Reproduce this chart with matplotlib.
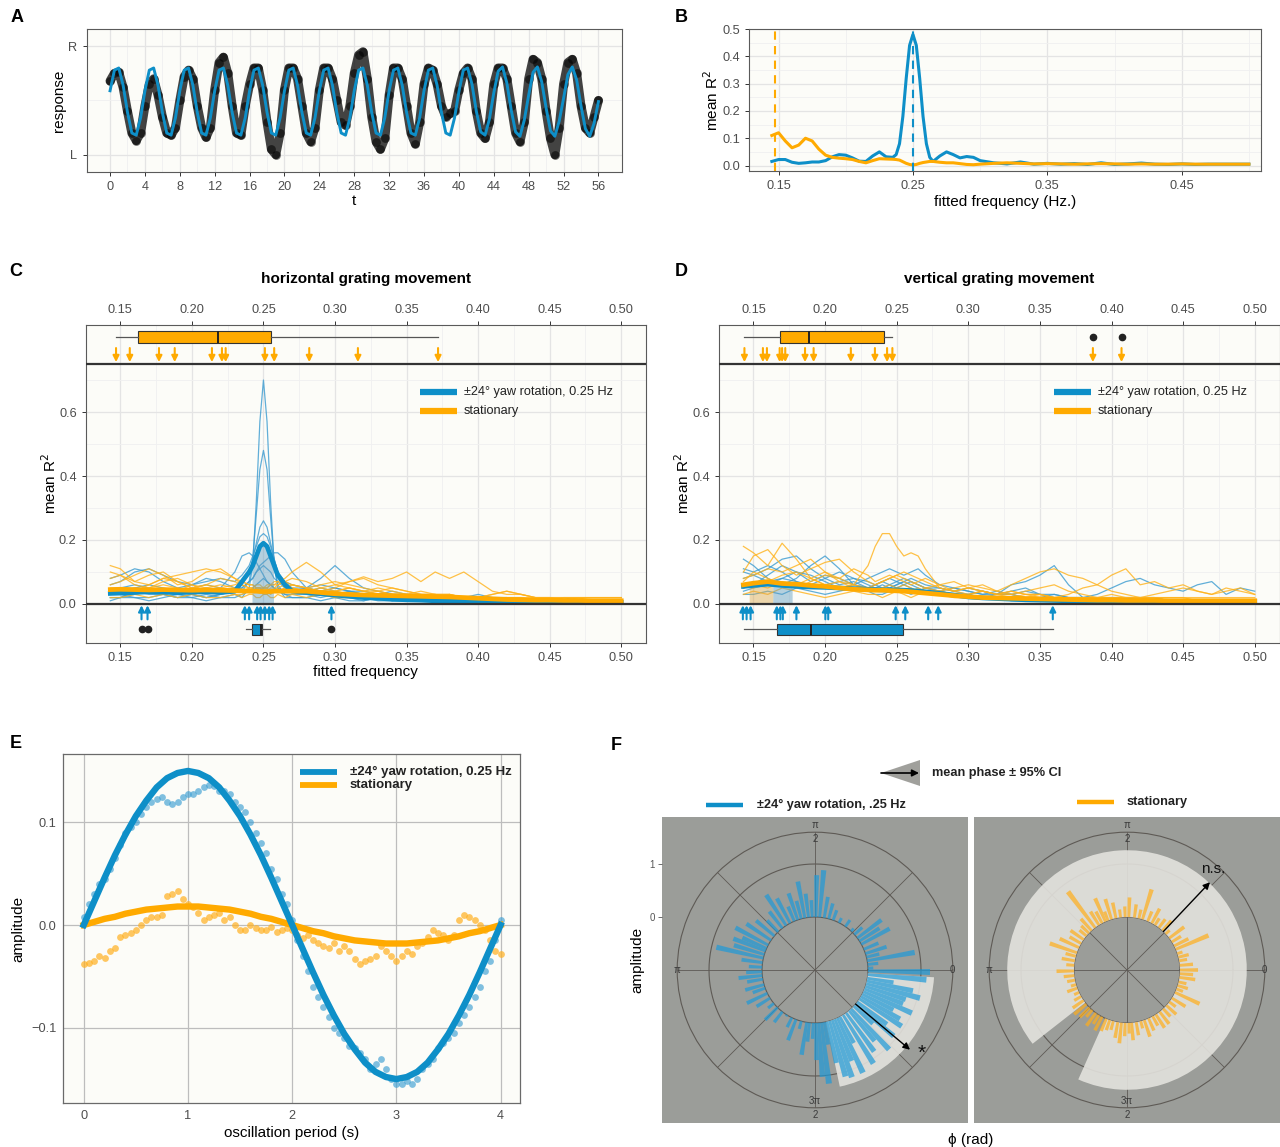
import numpy as np
import matplotlib.pyplot as plt
from matplotlib.patches import Polygon
from matplotlib.ticker import FormatStrFormatter

plt.rcParams['font.family'] = ['Liberation Sans', 'DejaVu Sans']

W, H = 1280, 1147
BLUE = '#0E8FC8'
BLUE_THIN = '#3A9BD0'
ORANGE = '#FFAA00'
ORANGE_THIN = '#FFB21A'
PANEL_BG = '#FCFCF8'
POLAR_BG = '#9B9D99'

# ---------------- A: single trial response ----------------
T_A = np.arange(113) * 0.5
A_RESPONSE = [
    0.68, 0.75, 0.76, 0.62, 0.40, 0.20, 0.13, 0.20,
    0.45, 0.65, 0.70, 0.55, 0.35, 0.20, 0.18, 0.25,
    0.50, 0.72, 0.78, 0.70, 0.45, 0.25, 0.16, 0.25,
    0.60, 0.85, 0.90, 0.75, 0.45, 0.20, 0.18, 0.45,
    0.65, 0.80, 0.80, 0.60, 0.30, 0.05, 0.00, 0.20,
    0.60, 0.80, 0.80, 0.70, 0.45, 0.20, 0.12, 0.25,
    0.60, 0.80, 0.80, 0.70, 0.50, 0.30, 0.27, 0.45,
    0.75, 0.92, 0.95, 0.70, 0.35, 0.12, 0.05, 0.15,
    0.55, 0.80, 0.80, 0.70, 0.45, 0.20, 0.10, 0.30,
    0.65, 0.80, 0.78, 0.65, 0.45, 0.35, 0.38, 0.40,
    0.60, 0.75, 0.80, 0.70, 0.40, 0.20, 0.15, 0.30,
    0.65, 0.80, 0.80, 0.70, 0.45, 0.20, 0.12, 0.30,
    0.70, 0.88, 0.85, 0.70, 0.40, 0.15, 0.00, 0.25,
    0.65, 0.85, 0.88, 0.75, 0.45, 0.25, 0.20, 0.35,
    0.50]
A_FIT = [
    0.59, 0.78, 0.80, 0.64, 0.39, 0.20, 0.18, 0.34,
    0.59, 0.78, 0.80, 0.64, 0.39, 0.20, 0.18, 0.34,
    0.59, 0.78, 0.80, 0.64, 0.39, 0.20, 0.18, 0.34,
    0.59, 0.78, 0.80, 0.64, 0.39, 0.20, 0.18, 0.34,
    0.59, 0.78, 0.80, 0.64, 0.39, 0.20, 0.18, 0.34,
    0.59, 0.78, 0.80, 0.64, 0.39, 0.20, 0.18, 0.34,
    0.59, 0.78, 0.80, 0.64, 0.39, 0.20, 0.18, 0.34,
    0.59, 0.78, 0.80, 0.64, 0.39, 0.20, 0.18, 0.34,
    0.59, 0.78, 0.80, 0.64, 0.39, 0.20, 0.18, 0.34,
    0.59, 0.78, 0.80, 0.64, 0.39, 0.20, 0.18, 0.34,
    0.58, 0.78, 0.80, 0.65, 0.40, 0.21, 0.18, 0.33,
    0.57, 0.77, 0.81, 0.66, 0.41, 0.21, 0.17, 0.32,
    0.55, 0.76, 0.81, 0.67, 0.43, 0.22, 0.17, 0.31,
    0.52, 0.74, 0.81, 0.69, 0.45, 0.24, 0.17, 0.29,
    0.49]

# ---------------- B: mean R2 vs fitted frequency ----------------
FREQ_B = [0.145, 0.15, 0.155, 0.16, 0.165, 0.17, 0.175, 0.18, 0.185, 0.19,
          0.195, 0.2, 0.205, 0.21, 0.215, 0.22, 0.225, 0.23, 0.235,
          0.2375, 0.24, 0.2425, 0.245, 0.2475, 0.25, 0.2525, 0.255, 0.2575,
          0.26, 0.2625, 0.265,
          0.27, 0.275, 0.28, 0.285, 0.29, 0.295, 0.30,
          0.31, 0.32, 0.33, 0.34, 0.35, 0.36, 0.37, 0.38, 0.39, 0.40,
          0.41, 0.42, 0.43, 0.44, 0.45, 0.46, 0.47, 0.48, 0.49, 0.50]
B_YAW = [0.015, 0.022, 0.022, 0.012, 0.008, 0.010, 0.013, 0.013, 0.018, 0.032,
         0.040, 0.038, 0.028, 0.016, 0.015, 0.035, 0.050, 0.032, 0.030,
         0.040, 0.080, 0.180, 0.320, 0.440, 0.480, 0.440, 0.320, 0.180,
         0.080, 0.030, 0.015,
         0.035, 0.050, 0.040, 0.028, 0.033, 0.030, 0.018,
         0.010, 0.006, 0.013, 0.005, 0.008, 0.005, 0.007, 0.004, 0.010, 0.004,
         0.006, 0.009, 0.005, 0.004, 0.006, 0.004, 0.005, 0.005, 0.005, 0.005]
B_STATIONARY = [0.110, 0.120, 0.090, 0.065, 0.075, 0.100, 0.090, 0.060, 0.038, 0.030,
                0.027, 0.025, 0.022, 0.015, 0.010, 0.018, 0.025, 0.024, 0.023,
                0.022, 0.020, 0.014, 0.008, 0.004, 0.002, 0.004, 0.008, 0.011,
                0.013, 0.015, 0.015,
                0.012, 0.010, 0.010, 0.007, 0.004, 0.003, 0.005,
                0.008, 0.010, 0.008, 0.006, 0.007, 0.006, 0.005, 0.006, 0.007, 0.006,
                0.005, 0.006, 0.005, 0.005, 0.006, 0.005, 0.005, 0.005, 0.005, 0.005]
B_PEAK_YAW = 0.25
B_PEAK_STATIONARY = 0.147

# ---------------- C: horizontal grating movement ----------------
FREQ_C = [0.143, 0.15, 0.16, 0.17, 0.18, 0.19, 0.20, 0.21, 0.22, 0.23,
          0.235, 0.24, 0.2425, 0.245, 0.2475, 0.25, 0.2525, 0.255, 0.2575, 0.26, 0.265, 0.27,
          0.28, 0.29, 0.30, 0.31, 0.32, 0.33, 0.34, 0.35, 0.36, 0.37, 0.38, 0.39,
          0.40, 0.41, 0.42, 0.43, 0.44, 0.45, 0.46, 0.47, 0.48, 0.49, 0.50]
C_BLUE_RUNS = [
    [0.03, 0.03, 0.02, 0.02, 0.03, 0.02, 0.02, 0.03, 0.02, 0.03,
     0.02, 0.05, 0.12, 0.32, 0.57, 0.70, 0.57, 0.32, 0.12, 0.05, 0.02, 0.02,
     0.02, 0.03, 0.02, 0.02, 0.01, 0.02, 0.01, 0.01, 0.01, 0.01, 0.01, 0.01,
     0.01, 0.01, 0.01, 0.01, 0.01, 0.01, 0.01, 0.01, 0.01, 0.01, 0.01],
    [0.02, 0.02, 0.03, 0.04, 0.03, 0.02, 0.03, 0.02, 0.03, 0.04,
     0.04, 0.07, 0.14, 0.28, 0.42, 0.48, 0.42, 0.27, 0.13, 0.06, 0.03, 0.03,
     0.03, 0.02, 0.03, 0.02, 0.02, 0.01, 0.01, 0.02, 0.01, 0.01, 0.01, 0.01,
     0.01, 0.01, 0.01, 0.01, 0.01, 0.01, 0.01, 0.01, 0.01, 0.01, 0.01],
    [0.04, 0.05, 0.06, 0.05, 0.04, 0.03, 0.04, 0.05, 0.04, 0.05,
     0.06, 0.10, 0.14, 0.19, 0.24, 0.26, 0.24, 0.19, 0.14, 0.10, 0.07, 0.06,
     0.05, 0.04, 0.05, 0.04, 0.03, 0.03, 0.02, 0.02, 0.02, 0.02, 0.02, 0.01,
     0.01, 0.02, 0.01, 0.01, 0.01, 0.01, 0.01, 0.01, 0.01, 0.01, 0.01],
    [0.06, 0.07, 0.10, 0.11, 0.09, 0.07, 0.06, 0.07, 0.08, 0.07,
     0.09, 0.12, 0.15, 0.18, 0.21, 0.22, 0.21, 0.18, 0.14, 0.10, 0.07, 0.05,
     0.05, 0.06, 0.05, 0.04, 0.04, 0.03, 0.03, 0.02, 0.02, 0.02, 0.02, 0.01,
     0.01, 0.01, 0.01, 0.01, 0.01, 0.01, 0.01, 0.01, 0.01, 0.01, 0.01],
    [0.03, 0.04, 0.05, 0.06, 0.05, 0.04, 0.05, 0.06, 0.05, 0.10,
     0.15, 0.16, 0.15, 0.13, 0.11, 0.09, 0.07, 0.06, 0.05, 0.05, 0.04, 0.04,
     0.05, 0.08, 0.12, 0.08, 0.05, 0.04, 0.03, 0.03, 0.03, 0.02, 0.02, 0.02,
     0.03, 0.02, 0.02, 0.02, 0.01, 0.01, 0.02, 0.01, 0.01, 0.01, 0.01],
    [0.02, 0.02, 0.04, 0.03, 0.03, 0.04, 0.03, 0.02, 0.03, 0.04,
     0.05, 0.07, 0.08, 0.10, 0.12, 0.13, 0.14, 0.15, 0.16, 0.16, 0.14, 0.10,
     0.05, 0.04, 0.03, 0.04, 0.03, 0.03, 0.02, 0.02, 0.02, 0.01, 0.01, 0.01,
     0.01, 0.02, 0.02, 0.01, 0.01, 0.01, 0.01, 0.01, 0.01, 0.01, 0.01],
    [0.08, 0.09, 0.11, 0.10, 0.07, 0.05, 0.06, 0.08, 0.07, 0.05,
     0.05, 0.07, 0.08, 0.10, 0.11, 0.12, 0.11, 0.10, 0.08, 0.07, 0.05, 0.04,
     0.04, 0.05, 0.04, 0.03, 0.03, 0.03, 0.04, 0.03, 0.02, 0.02, 0.02, 0.01,
     0.02, 0.02, 0.01, 0.01, 0.02, 0.01, 0.01, 0.01, 0.01, 0.01, 0.01],
    [0.01, 0.02, 0.02, 0.01, 0.02, 0.03, 0.02, 0.01, 0.02, 0.02,
     0.03, 0.04, 0.05, 0.06, 0.07, 0.08, 0.07, 0.06, 0.05, 0.04, 0.03, 0.02,
     0.02, 0.01, 0.02, 0.01, 0.01, 0.02, 0.01, 0.01, 0.01, 0.01, 0.01, 0.01,
     0.01, 0.01, 0.01, 0.01, 0.01, 0.01, 0.01, 0.01, 0.01, 0.01, 0.01],
]
C_BLUE_MEAN = [0.033, 0.034, 0.036, 0.038, 0.037, 0.035, 0.037, 0.038, 0.036, 0.040,
               0.07, 0.10, 0.12, 0.15, 0.18, 0.19, 0.18, 0.15, 0.12, 0.09, 0.06, 0.04,
               0.036, 0.032, 0.028, 0.024, 0.020, 0.018, 0.015, 0.013, 0.012, 0.010, 0.009, 0.008,
               0.007, 0.006, 0.006, 0.005, 0.005, 0.005, 0.005, 0.005, 0.005, 0.005, 0.005]
C_ORANGE_RUNS = [
    [0.12, 0.11, 0.07, 0.09, 0.10, 0.07, 0.05, 0.06, 0.05, 0.04,
     0.04, 0.05, 0.05, 0.06, 0.06, 0.05, 0.05, 0.04, 0.04, 0.04, 0.05, 0.06,
     0.05, 0.04, 0.04, 0.03, 0.03, 0.04, 0.03, 0.02, 0.02, 0.02, 0.02, 0.02,
     0.02, 0.01, 0.02, 0.02, 0.01, 0.01, 0.02, 0.02, 0.01, 0.01, 0.01],
    [0.06, 0.07, 0.09, 0.11, 0.09, 0.06, 0.07, 0.10, 0.11, 0.08,
     0.06, 0.05, 0.05, 0.04, 0.04, 0.05, 0.05, 0.06, 0.06, 0.07, 0.06, 0.05,
     0.04, 0.05, 0.06, 0.05, 0.04, 0.05, 0.04, 0.03, 0.03, 0.03, 0.02, 0.02,
     0.02, 0.02, 0.02, 0.01, 0.02, 0.01, 0.01, 0.01, 0.01, 0.01, 0.01],
    [0.05, 0.05, 0.04, 0.05, 0.06, 0.05, 0.04, 0.05, 0.06, 0.05,
     0.04, 0.04, 0.04, 0.05, 0.05, 0.05, 0.06, 0.06, 0.07, 0.07, 0.08, 0.10,
     0.13, 0.10, 0.06, 0.07, 0.08, 0.06, 0.05, 0.04, 0.03, 0.03, 0.02, 0.02,
     0.02, 0.02, 0.02, 0.01, 0.01, 0.02, 0.01, 0.01, 0.01, 0.01, 0.01],
    [0.03, 0.04, 0.05, 0.04, 0.03, 0.04, 0.06, 0.05, 0.04, 0.03,
     0.03, 0.04, 0.04, 0.05, 0.05, 0.04, 0.04, 0.03, 0.04, 0.04, 0.05, 0.06,
     0.05, 0.04, 0.05, 0.07, 0.085, 0.07, 0.08, 0.10, 0.07, 0.10, 0.08, 0.10,
     0.07, 0.04, 0.03, 0.03, 0.02, 0.02, 0.02, 0.02, 0.02, 0.02, 0.02],
    [0.08, 0.09, 0.07, 0.06, 0.08, 0.09, 0.10, 0.11, 0.10, 0.08,
     0.07, 0.06, 0.06, 0.05, 0.05, 0.05, 0.05, 0.06, 0.06, 0.06, 0.07, 0.08,
     0.07, 0.05, 0.04, 0.05, 0.04, 0.04, 0.03, 0.03, 0.04, 0.03, 0.03, 0.02,
     0.02, 0.03, 0.04, 0.03, 0.02, 0.02, 0.01, 0.02, 0.02, 0.02, 0.02],
    [0.02, 0.02, 0.03, 0.02, 0.03, 0.02, 0.03, 0.02, 0.02, 0.03,
     0.02, 0.03, 0.03, 0.02, 0.02, 0.03, 0.03, 0.02, 0.02, 0.03, 0.02, 0.03,
     0.02, 0.03, 0.02, 0.02, 0.02, 0.02, 0.02, 0.02, 0.02, 0.02, 0.01, 0.01,
     0.01, 0.01, 0.01, 0.01, 0.01, 0.01, 0.01, 0.01, 0.01, 0.01, 0.01],
    [0.10, 0.09, 0.06, 0.05, 0.07, 0.08, 0.06, 0.04, 0.05, 0.06,
     0.07, 0.06, 0.06, 0.05, 0.05, 0.04, 0.04, 0.05, 0.05, 0.06, 0.07, 0.06,
     0.05, 0.06, 0.07, 0.06, 0.05, 0.04, 0.05, 0.04, 0.03, 0.03, 0.03, 0.02,
     0.02, 0.03, 0.04, 0.03, 0.02, 0.02, 0.02, 0.02, 0.02, 0.02, 0.02],
    [0.04, 0.05, 0.04, 0.06, 0.08, 0.07, 0.05, 0.06, 0.08, 0.07,
     0.06, 0.05, 0.05, 0.04, 0.04, 0.03, 0.03, 0.04, 0.04, 0.05, 0.06, 0.05,
     0.04, 0.03, 0.04, 0.05, 0.04, 0.03, 0.03, 0.03, 0.02, 0.02, 0.03, 0.02,
     0.02, 0.02, 0.02, 0.02, 0.02, 0.02, 0.01, 0.01, 0.01, 0.01, 0.01],
]
C_ORANGE_MEAN = [0.045, 0.046, 0.045, 0.044, 0.045, 0.044, 0.043, 0.044, 0.043, 0.042,
                 0.041, 0.040, 0.040, 0.040, 0.039, 0.039, 0.039, 0.039, 0.040, 0.040, 0.040, 0.040,
                 0.040, 0.036, 0.032, 0.030, 0.028, 0.027, 0.026, 0.025, 0.024, 0.023, 0.022, 0.020,
                 0.018, 0.016, 0.014, 0.013, 0.012, 0.012, 0.011, 0.011, 0.010, 0.010, 0.010]
C_ORANGE_PEAKS = [0.147, 0.1566, 0.177, 0.188, 0.214, 0.221, 0.2236, 0.251, 0.2575,
                  0.282, 0.316, 0.372]
C_BLUE_PEAKS = [0.1648, 0.169, 0.237, 0.240, 0.2456, 0.248, 0.251, 0.254, 0.2564, 0.2975]
C_ORANGE_BOX = dict(whislo=0.147, q1=0.162, med=0.218, q3=0.2555, whishi=0.372, fliers=[])
C_BLUE_BOX = dict(whislo=0.238, q1=0.2418, med=0.2484, q3=0.2493, whishi=0.2547,
                  fliers=[0.1648, 0.169, 0.2975])
C_BLUE_SHADE = (0.242, 0.257)

# ---------------- D: vertical grating movement ----------------
FREQ_D = [0.143, 0.15, 0.16, 0.17, 0.18, 0.19, 0.20, 0.21, 0.22, 0.23,
          0.235, 0.24, 0.245, 0.25, 0.255, 0.26, 0.265, 0.27,
          0.28, 0.29, 0.30, 0.31, 0.32, 0.33, 0.34, 0.35, 0.36, 0.37, 0.38, 0.39,
          0.40, 0.41, 0.42, 0.43, 0.44, 0.45, 0.46, 0.47, 0.48, 0.49, 0.50]
D_BLUE_RUNS = [
    [0.14, 0.12, 0.08, 0.06, 0.08, 0.12, 0.15, 0.11, 0.06, 0.05,
     0.06, 0.07, 0.08, 0.07, 0.06, 0.05, 0.04, 0.04,
     0.03, 0.03, 0.02, 0.02, 0.02, 0.02, 0.02, 0.02, 0.02, 0.01, 0.01, 0.01,
     0.01, 0.01, 0.01, 0.01, 0.01, 0.01, 0.01, 0.01, 0.01, 0.01, 0.01],
    [0.08, 0.09, 0.11, 0.14, 0.15, 0.11, 0.08, 0.06, 0.07, 0.05,
     0.05, 0.06, 0.05, 0.06, 0.07, 0.06, 0.05, 0.04,
     0.04, 0.03, 0.03, 0.02, 0.03, 0.06, 0.07, 0.09, 0.12, 0.06, 0.02, 0.03,
     0.05, 0.07, 0.08, 0.06, 0.05, 0.04, 0.06, 0.07, 0.03, 0.05, 0.04],
    [0.10, 0.09, 0.07, 0.08, 0.10, 0.09, 0.07, 0.05, 0.06, 0.08,
     0.09, 0.10, 0.11, 0.10, 0.09, 0.10, 0.11, 0.09,
     0.06, 0.05, 0.04, 0.03, 0.04, 0.03, 0.02, 0.02, 0.03, 0.02, 0.02, 0.01,
     0.02, 0.02, 0.01, 0.01, 0.01, 0.01, 0.01, 0.01, 0.01, 0.01, 0.01],
    [0.05, 0.06, 0.09, 0.12, 0.10, 0.07, 0.09, 0.08, 0.06, 0.05,
     0.06, 0.07, 0.06, 0.05, 0.06, 0.07, 0.06, 0.05,
     0.05, 0.04, 0.03, 0.04, 0.03, 0.03, 0.04, 0.03, 0.03, 0.02, 0.02, 0.02,
     0.02, 0.02, 0.02, 0.02, 0.01, 0.01, 0.01, 0.01, 0.01, 0.01, 0.01],
    [0.03, 0.03, 0.04, 0.03, 0.05, 0.04, 0.03, 0.04, 0.05, 0.04,
     0.03, 0.03, 0.04, 0.05, 0.04, 0.03, 0.04, 0.05,
     0.04, 0.03, 0.02, 0.02, 0.02, 0.01, 0.01, 0.01, 0.01, 0.01, 0.01, 0.01,
     0.01, 0.01, 0.01, 0.01, 0.01, 0.01, 0.01, 0.01, 0.01, 0.01, 0.01],
    [0.11, 0.10, 0.12, 0.10, 0.07, 0.06, 0.08, 0.10, 0.08, 0.06,
     0.05, 0.05, 0.06, 0.07, 0.08, 0.07, 0.06, 0.05,
     0.04, 0.05, 0.04, 0.03, 0.03, 0.04, 0.05, 0.03, 0.02, 0.02, 0.02, 0.02,
     0.02, 0.02, 0.02, 0.02, 0.01, 0.01, 0.01, 0.01, 0.01, 0.01, 0.01],
    [0.04, 0.05, 0.06, 0.08, 0.07, 0.05, 0.06, 0.07, 0.08, 0.07,
     0.06, 0.05, 0.05, 0.06, 0.07, 0.08, 0.07, 0.06,
     0.05, 0.04, 0.05, 0.04, 0.03, 0.03, 0.02, 0.02, 0.02, 0.02, 0.02, 0.02,
     0.01, 0.01, 0.01, 0.01, 0.01, 0.01, 0.01, 0.01, 0.01, 0.01, 0.01],
]
D_BLUE_MEAN = [0.055, 0.058, 0.062, 0.058, 0.055, 0.053, 0.052, 0.050, 0.048, 0.046,
               0.045, 0.044, 0.044, 0.044, 0.043, 0.042, 0.040, 0.038,
               0.033, 0.028, 0.022, 0.019, 0.017, 0.015, 0.013, 0.012, 0.011, 0.010, 0.010, 0.010,
               0.009, 0.009, 0.008, 0.008, 0.008, 0.008, 0.008, 0.008, 0.008, 0.008, 0.008]
D_ORANGE_RUNS = [
    [0.05, 0.06, 0.05, 0.07, 0.06, 0.08, 0.10, 0.07, 0.06, 0.12,
     0.18, 0.22, 0.22, 0.18, 0.15, 0.16, 0.15, 0.11,
     0.05, 0.04, 0.03, 0.04, 0.03, 0.03, 0.02, 0.03, 0.02, 0.02, 0.02, 0.02,
     0.02, 0.02, 0.02, 0.02, 0.01, 0.01, 0.01, 0.01, 0.01, 0.01, 0.01],
    [0.18, 0.16, 0.12, 0.19, 0.14, 0.08, 0.06, 0.07, 0.05, 0.04,
     0.04, 0.05, 0.06, 0.05, 0.04, 0.04, 0.05, 0.04,
     0.04, 0.03, 0.03, 0.04, 0.03, 0.02, 0.03, 0.02, 0.02, 0.02, 0.02, 0.02,
     0.01, 0.02, 0.02, 0.01, 0.01, 0.01, 0.01, 0.01, 0.01, 0.01, 0.01],
    [0.10, 0.15, 0.17, 0.12, 0.09, 0.11, 0.13, 0.14, 0.10, 0.07,
     0.06, 0.07, 0.08, 0.09, 0.08, 0.07, 0.06, 0.05,
     0.06, 0.07, 0.05, 0.04, 0.03, 0.04, 0.03, 0.03, 0.02, 0.02, 0.02, 0.02,
     0.02, 0.02, 0.02, 0.02, 0.02, 0.02, 0.01, 0.01, 0.01, 0.01, 0.01],
    [0.06, 0.05, 0.07, 0.09, 0.10, 0.08, 0.06, 0.05, 0.06, 0.04,
     0.04, 0.05, 0.04, 0.05, 0.06, 0.05, 0.04, 0.05,
     0.04, 0.05, 0.06, 0.05, 0.04, 0.06, 0.08, 0.10, 0.11, 0.09, 0.08, 0.06,
     0.09, 0.11, 0.06, 0.07, 0.05, 0.06, 0.04, 0.03, 0.05, 0.04, 0.03],
    [0.08, 0.09, 0.11, 0.10, 0.12, 0.14, 0.10, 0.08, 0.11, 0.09,
     0.07, 0.08, 0.09, 0.08, 0.07, 0.06, 0.07, 0.08,
     0.06, 0.04, 0.05, 0.06, 0.04, 0.03, 0.04, 0.05, 0.06, 0.04, 0.03, 0.02,
     0.03, 0.02, 0.02, 0.02, 0.02, 0.02, 0.02, 0.02, 0.02, 0.02, 0.02],
    [0.03, 0.04, 0.03, 0.05, 0.04, 0.03, 0.02, 0.03, 0.04, 0.03,
     0.03, 0.02, 0.03, 0.04, 0.03, 0.02, 0.03, 0.04,
     0.03, 0.02, 0.02, 0.02, 0.02, 0.02, 0.02, 0.01, 0.01, 0.01, 0.01, 0.01,
     0.01, 0.01, 0.01, 0.01, 0.01, 0.01, 0.01, 0.01, 0.01, 0.01, 0.01],
    [0.07, 0.10, 0.08, 0.06, 0.05, 0.07, 0.09, 0.08, 0.06, 0.05,
     0.06, 0.07, 0.08, 0.09, 0.10, 0.09, 0.08, 0.07,
     0.05, 0.04, 0.05, 0.04, 0.03, 0.04, 0.03, 0.03, 0.02, 0.03, 0.05, 0.06,
     0.04, 0.03, 0.02, 0.03, 0.04, 0.05, 0.04, 0.03, 0.04, 0.05, 0.03],
]
D_ORANGE_MEAN = [0.060, 0.065, 0.070, 0.064, 0.062, 0.058, 0.055, 0.050, 0.046, 0.044,
                 0.043, 0.043, 0.042, 0.041, 0.040, 0.038, 0.036, 0.034,
                 0.030, 0.026, 0.023, 0.020, 0.019, 0.018, 0.017, 0.016, 0.015, 0.014, 0.013, 0.012,
                 0.012, 0.011, 0.011, 0.011, 0.010, 0.010, 0.010, 0.010, 0.010, 0.010, 0.010]
D_ORANGE_PEAKS = [0.1437, 0.1566, 0.1594, 0.1683, 0.170, 0.1722, 0.186, 0.192, 0.218,
                  0.2348, 0.2433, 0.247, 0.387, 0.407]
D_BLUE_PEAKS = [0.1426, 0.1452, 0.148, 0.1663, 0.1688, 0.1705, 0.18, 0.2002, 0.2022,
                0.2493, 0.256, 0.272, 0.279, 0.359]
D_ORANGE_BOX = dict(whislo=0.1437, q1=0.1688, med=0.189, q3=0.241, whishi=0.247,
                    fliers=[0.387, 0.407])
D_BLUE_BOX = dict(whislo=0.1437, q1=0.1667, med=0.19, q3=0.2544, whishi=0.359, fliers=[])
D_ORANGE_SHADE = (0.147, 0.1635)
D_BLUE_SHADE = (0.1635, 0.177)

# ---------------- E: averaged response over one period ----------------
T_E = np.arange(81) * 0.05
E_YAW_PTS = [
    0.008, 0.02, 0.03, 0.04, 0.045, 0.055, 0.065, 0.078, 0.09, 0.095,
    0.1, 0.108, 0.115, 0.12, 0.123, 0.125, 0.12, 0.118, 0.12, 0.125,
    0.128, 0.128, 0.13, 0.134, 0.136, 0.135, 0.13, 0.13, 0.128, 0.12,
    0.115, 0.11, 0.1, 0.09, 0.08, 0.07, 0.055, 0.045, 0.03, 0.02,
    0.005, -0.015, -0.03, -0.045, -0.06, -0.07, -0.08, -0.09, -0.1, -0.105,
    -0.11, -0.118, -0.12, -0.125, -0.13, -0.14, -0.135, -0.13, -0.14, -0.15,
    -0.155, -0.155, -0.152, -0.155, -0.15, -0.14, -0.135, -0.13, -0.12, -0.115,
    -0.11, -0.105, -0.095, -0.088, -0.08, -0.07, -0.06, -0.045, -0.035, -0.015,
    0.005]
E_STATIONARY_PTS = [
    -0.038, -0.037, -0.035, -0.03, -0.032, -0.025, -0.022, -0.012, -0.01, -0.008,
    -0.005, 0.0, 0.005, 0.008, 0.008, 0.01, 0.028, 0.03, 0.033, 0.025,
    0.02, 0.018, 0.012, 0.005, 0.008, 0.01, 0.012, 0.005, 0.008, 0.0,
    -0.005, -0.005, 0.0, -0.003, -0.005, -0.005, -0.002, -0.007, -0.005, -0.003,
    -0.005, -0.01, -0.013, -0.01, -0.015, -0.018, -0.02, -0.022, -0.018, -0.025,
    -0.02, -0.025, -0.033, -0.038, -0.035, -0.033, -0.03, -0.02, -0.025, -0.03,
    -0.035, -0.03, -0.025, -0.028, -0.02, -0.018, -0.012, -0.005, -0.008, -0.01,
    -0.015, -0.01, 0.005, 0.01, 0.008, 0.005, 0.0, -0.005, -0.015, -0.025,
    -0.028]
T_FIT_E = np.arange(41) * 0.1
E_YAW_FIT = [0.0, 0.023, 0.046, 0.068, 0.088, 0.106, 0.121, 0.134, 0.143, 0.148,
             0.150, 0.148, 0.143, 0.134, 0.121, 0.106, 0.088, 0.068, 0.046, 0.023,
             0.0, -0.023, -0.046, -0.068, -0.088, -0.106, -0.121, -0.134, -0.143, -0.148,
             -0.150, -0.148, -0.143, -0.134, -0.121, -0.106, -0.088, -0.068, -0.046, -0.023,
             0.0]
E_STATIONARY_FIT = [0.0, 0.003, 0.006, 0.008, 0.011, 0.013, 0.015, 0.016, 0.017, 0.018,
                    0.018, 0.018, 0.017, 0.016, 0.015, 0.013, 0.011, 0.008, 0.006, 0.003,
                    0.0, -0.003, -0.006, -0.008, -0.011, -0.013, -0.015, -0.016, -0.017, -0.018,
                    -0.018, -0.018, -0.017, -0.016, -0.015, -0.013, -0.011, -0.008, -0.006, -0.003,
                    0.0]

# ---------------- F: phase / amplitude per trial ----------------
F_YAW_ANGLE = [-1, -5, -9, -12, -15, -18, -21, -24, -27, -30, -33, -37, -40, -43,
               -47, -50, -54, -58, -62, -65, -68, -71, -74, -77, -80, -83, -86, -89,
               2, 6, 10, 14, 18, 23, 29, 33, 37, 42, 47, 55, 63, 70, 75, 80, 85, 89,
               93, 97, 101, 105, 109, 113, 118, 123, 128, 134, 140, 146, 152, 156,
               159, 163, 167, 172, 177,
               182, 186, 190, 196, 200, 206, 212, 219, 225, 232, 238, 244, 249, 255,
               261, 264, 268]
F_YAW_AMP = [1.17, 1.11, 0.50, 0.89, 1.05, 0.80, 0.78, 1.00, 0.66, 0.85, 0.95, 0.70, 0.94, 0.49,
             1.05, 0.75, 0.90, 1.08, 0.56, 1.14, 0.85, 1.14, 1.09, 0.80, 0.43, 1.16, 1.02, 0.70,
             0.10, 0.20, 0.91, 0.25, 0.42, 0.30, 0.61, 0.45, 0.57, 0.20, 0.07, 0.15, 0.10, 0.20,
             0.30, 0.40, 0.89, 0.79,
             0.32, 0.45, 0.70, 0.35, 0.53, 0.30, 0.53, 0.69, 0.40, 0.30, 0.45, 0.56, 0.70, 0.50,
             0.65, 0.60, 0.91, 0.40, 0.25,
             0.30, 0.45, 0.30, 0.37, 0.25, 0.43, 0.30, 0.14, 0.33, 0.25, 0.03, 0.20, 0.42, 0.15,
             0.62, 0.36, 0.30]
F_STAT_ANGLE = [0, 5, 10, 14, 18, 23, 27, 32, 37, 43, 48, 53, 58, 62, 67, 73, 77, 82, 88,
                92, 97, 102, 107, 111, 114, 118, 122, 127, 132, 136, 140, 145, 150, 155,
                161, 165, 170, 175, 181, 186, 191, 196, 200, 205, 210, 215, 220, 225, 229,
                234, 238, 242, 247, 251, 255, 260, 264, 268, 272, 275, 280, 285, 289, 294,
                299, 303, 308, 313, 318, 323, 328, 335, 339, 343, 347, 352, 356]
F_STAT_AMP = [0.34, 0.25, 0.15, 0.20, 0.10, 0.67, 0.30, 0.20, 0.35, 0.10, 0.25, 0.20, 0.15,
              0.31, 0.20, 0.59, 0.17, 0.25, 0.37, 0.20, 0.15, 0.30, 0.40, 0.18, 0.48, 0.25,
              0.30, 0.85, 0.30, 0.20, 0.17, 0.30, 0.25, 0.40, 0.54, 0.20, 0.25, 0.15, 0.33,
              0.20, 0.15, 0.10, 0.20, 0.10, 0.15, 0.25, 0.30, 0.26, 0.17, 0.30, 0.20, 0.29,
              0.25, 0.20, 0.17, 0.30, 0.39, 0.25, 0.20, 0.33, 0.25, 0.14, 0.33, 0.25, 0.20,
              0.30, 0.29, 0.20, 0.25, 0.15, 0.30, 0.51, 0.13, 0.20, 0.15, 0.30, 0.25]
# mean phase (deg), resultant length, CI wedge (start deg, span deg, radius)
F_YAW_MEAN = (-40, 1.34)
F_YAW_CI = (-78, 74.5, 1.25)
F_STAT_MEAN = (46.6, 1.28)
F_STAT_CI = (246, 332, 1.26)

fig = plt.figure(figsize=(W / 100, H / 100), dpi=100)


def px_box(x0, y0, x1, y1):
    return [x0 / W, 1 - y1 / H, (x1 - x0) / W, (y1 - y0) / H]


def gg_axes(box):
    ax = fig.add_axes(px_box(*box))
    ax.set_facecolor(PANEL_BG)
    for s in ax.spines.values():
        s.set_color('#5A5A5A')
        s.set_linewidth(0.8)
    ax.grid(True, which='major', color='#E4E4E4', lw=0.9)
    ax.grid(True, which='minor', color='#F0F0F0', lw=0.6)
    ax.set_axisbelow(True)
    ax.tick_params(which='major', length=3, width=0.7, color='#333333',
                   labelsize=9.2, labelcolor='#4D4D4D')
    ax.tick_params(which='minor', length=0)
    return ax


# ---- A ----
ax = gg_axes((86.5, 29, 622, 172))
ax.plot(T_A, A_RESPONSE, color='#151515', lw=6.5, alpha=0.8, solid_capstyle='round', zorder=2)
ax.scatter(T_A, A_RESPONSE, s=40, color='black', alpha=0.55, lw=0, zorder=3)
ax.plot(T_A, A_FIT, color=BLUE, lw=2.1, zorder=4)
ax.set_xlim(-2.7, 58.7)
ax.set_ylim(-0.16, 1.16)
ax.set_xticks(np.arange(0, 57, 4))
ax.set_xticks(np.arange(2, 57, 4), minor=True)
ax.set_yticks([0, 1])
ax.set_yticklabels(['L', 'R'])
ax.set_yticks([0.5], minor=True)
ax.set_xlabel('t', fontsize=11, labelpad=1)
ax.set_ylabel('response', fontsize=11, labelpad=2)

# ---- B ----
ax = gg_axes((749, 29, 1261, 171))
ax.plot(FREQ_B, B_YAW, color=BLUE, lw=2.2)
ax.plot(FREQ_B, B_STATIONARY, color=ORANGE, lw=2.2)
ax.axvline(B_PEAK_STATIONARY, color=ORANGE, ls=(0, (4, 3)), lw=1.5)
ax.axvline(B_PEAK_YAW, color=BLUE, ls=(0, (4, 3)), lw=1.5)
ax.set_xlim(0.128, 0.509)
ax.set_ylim(-0.02, 0.5)
ax.set_xticks([0.15, 0.25, 0.35, 0.45])
ax.set_xticks([0.2, 0.3, 0.4, 0.5], minor=True)
ax.set_yticks(np.arange(0, 0.51, 0.1))
ax.set_yticks(np.arange(0.05, 0.5, 0.1), minor=True)
ax.xaxis.set_major_formatter(FormatStrFormatter('%.2f'))
ax.yaxis.set_major_formatter(FormatStrFormatter('%.1f'))
ax.set_xlabel('fitted frequency (Hz.)', fontsize=11, labelpad=2)
ax.set_ylabel('mean R$^2$', fontsize=11, labelpad=1)


# ---- C / D ----
def shade(ax, freq, mean, lo, hi, color):
    xs = [lo] + [f for f in freq if lo < f < hi] + [hi]
    ax.fill_between(xs, 0, np.interp(xs, freq, mean), color=color, alpha=0.45, lw=0, zorder=3)


def freq_panel(box, title, freq, blue_runs, orange_runs, blue_mean, orange_mean,
               blue_peaks, orange_peaks, blue_box, orange_box, xlabel):
    ax = gg_axes(box)
    for run in blue_runs:
        ax.plot(freq, run, color=BLUE_THIN, lw=0.9, alpha=0.8, zorder=2)
    for run in orange_runs:
        ax.plot(freq, run, color=ORANGE_THIN, lw=0.9, alpha=0.8, zorder=2)
    ax.plot(freq, blue_mean, color=BLUE, lw=3.4, zorder=4)
    ax.plot(freq, orange_mean, color=ORANGE, lw=3.4, zorder=4)
    ax.axhline(0, color='#333333', lw=1.6, zorder=5)
    ax.axhline(0.75, color='#333333', lw=1.6, zorder=5)
    for f in orange_peaks:
        ax.annotate('', xy=(f, 0.756), xytext=(f, 0.80),
                    arrowprops=dict(arrowstyle='-|>', color=ORANGE, lw=1.5,
                                    mutation_scale=9, shrinkA=0, shrinkB=0), zorder=6)
    for f in blue_peaks:
        ax.annotate('', xy=(f, -0.004), xytext=(f, -0.048),
                    arrowprops=dict(arrowstyle='-|>', color=BLUE, lw=1.5,
                                    mutation_scale=9, shrinkA=0, shrinkB=0), zorder=6)
    common = dict(orientation='horizontal', widths=0.036, patch_artist=True,
                  showcaps=False, manage_ticks=False,
                  medianprops=dict(color='#222222', lw=1.4),
                  whiskerprops=dict(color='#555555', lw=0.9),
                  flierprops=dict(marker='o', markerfacecolor='#222222',
                                  markeredgecolor='#222222', markersize=4.5))
    ax.bxp([orange_box], positions=[0.834],
           boxprops=dict(facecolor=ORANGE, edgecolor='#333333', lw=0.8), **common)
    ax.bxp([blue_box], positions=[-0.079],
           boxprops=dict(facecolor=BLUE, edgecolor='#333333', lw=0.8), **common)
    ax.set_xlim(0.1258, 0.5173)
    ax.set_ylim(-0.121, 0.872)
    ax.set_xticks(np.arange(0.15, 0.501, 0.05))
    ax.set_xticks(np.arange(0.175, 0.501, 0.05), minor=True)
    ax.xaxis.set_major_formatter(FormatStrFormatter('%.2f'))
    ax.set_yticks([0, 0.2, 0.4, 0.6])
    ax.set_yticks([0.1, 0.3, 0.5, 0.7], minor=True)
    ax.yaxis.set_major_formatter(FormatStrFormatter('%.1f'))
    ax.tick_params(axis='x', which='major', top=True, labeltop=True)
    ax.set_ylabel('mean R$^2$', fontsize=11, labelpad=0)
    if xlabel:
        ax.set_xlabel(xlabel, fontsize=11, labelpad=1)
    ax.text(0.5, 1 + 46 / 317.7, title, transform=ax.transAxes, ha='center',
            va='center', fontsize=11, fontweight='bold')
    return ax


ax = freq_panel((85.7, 325, 646, 642.7), 'horizontal grating movement', FREQ_C,
                C_BLUE_RUNS, C_ORANGE_RUNS, C_BLUE_MEAN, C_ORANGE_MEAN,
                C_BLUE_PEAKS, C_ORANGE_PEAKS, C_BLUE_BOX, C_ORANGE_BOX, 'fitted frequency')
shade(ax, FREQ_C, C_BLUE_MEAN, *C_BLUE_SHADE, '#5E9CC0')

ax = freq_panel((718.8, 325, 1279.5, 642.7), 'vertical grating movement', FREQ_D,
                D_BLUE_RUNS, D_ORANGE_RUNS, D_BLUE_MEAN, D_ORANGE_MEAN,
                D_BLUE_PEAKS, D_ORANGE_PEAKS, D_BLUE_BOX, D_ORANGE_BOX, None)
shade(ax, FREQ_D, D_ORANGE_MEAN, *D_ORANGE_SHADE, '#D9A84E')
shade(ax, FREQ_D, D_BLUE_MEAN, *D_BLUE_SHADE, '#5E9CC0')

# ---- E ----
ax = fig.add_axes(px_box(63.3, 754.3, 520.4, 1102.7))
ax.set_facecolor(PANEL_BG)
for s in ax.spines.values():
    s.set_color('#6A6A6A')
    s.set_linewidth(0.9)
ax.grid(True, color='#BDBDBD', lw=0.9)
ax.set_axisbelow(True)
ax.scatter(T_E, E_STATIONARY_PTS, s=24, color='#FFB020', alpha=0.7, lw=0, zorder=2)
ax.scatter(T_E, E_YAW_PTS, s=24, color='#3D9FD3', alpha=0.65, lw=0, zorder=2)
ax.plot(T_FIT_E, E_STATIONARY_FIT, color=ORANGE, lw=4.6, zorder=3)
ax.plot(T_FIT_E, E_YAW_FIT, color=BLUE, lw=4.6, zorder=4)
ax.set_xlim(-0.196, 4.19)
ax.set_ylim(-0.173, 0.1662)
ax.set_xticks([0, 1, 2, 3, 4])
ax.set_yticks([-0.1, 0, 0.1])
ax.set_yticklabels(['\u22120.1', '0.0', '0.1'])
ax.tick_params(length=0, labelsize=9.2, labelcolor='#4D4D4D', pad=5)
ax.set_xlabel('oscillation period (s)', fontsize=11, labelpad=3)
ax.set_ylabel('amplitude', fontsize=11, labelpad=4)


# ---- F ----
def polar_panel(box, angles, amps, color, mean, ci, mark, mark_size, left_ticks):
    x0, y0, x1, y1 = box
    unit = 53.0
    bg = fig.add_axes(px_box(x0, y0, x1, y1))
    bg.set_facecolor(POLAR_BG)
    half = (y1 - y0) / 2 / unit
    bg.set_xlim(-1, 1)
    bg.set_ylim(-half, half)
    bg.set_xticks([])
    for s in bg.spines.values():
        s.set_visible(False)
    if left_ticks:
        bg.set_yticks([1, 2])
        bg.set_yticklabels(['0', '1'])
        bg.tick_params(axis='y', length=3, width=0.6, color='#555555',
                       labelsize=7, labelcolor='#555555', pad=2)
    else:
        bg.set_yticks([])
    cx, cy = (x0 + x1) / 2, (y0 + y1) / 2
    R = 2.6 * unit
    pa = fig.add_axes(px_box(cx - R, cy - R, cx + R, cy + R), projection='polar')
    pa.patch.set_alpha(0)
    pa.set_ylim(0, 2.6)
    pa.grid(False)
    pa.set_xticks([])
    pa.set_yticks([])
    pa.spines['polar'].set_color('#5E5A55')
    pa.spines['polar'].set_linewidth(0.8)
    th = np.linspace(0, 2 * np.pi, 361)
    for r in (1, 2):
        pa.plot(th, np.full_like(th, r), color='#5E5A55', lw=0.8, zorder=1)
    for a in range(0, 360, 45):
        pa.plot([np.deg2rad(a)] * 2, [0, 2.6], color='#5E5A55', lw=0.6, zorder=1)
    start, span, rad = ci
    pa.bar(np.deg2rad(start + span / 2), rad, width=np.deg2rad(span), bottom=1,
           color='#E3E2DD', alpha=0.9, lw=0, zorder=2)
    pa.bar(np.deg2rad(angles), amps, width=np.deg2rad(3.0), bottom=1,
           color=color, alpha=0.7, lw=0, zorder=3)
    m_deg, m_len = mean
    pa.annotate('', xy=(np.deg2rad(m_deg), 1 + m_len), xytext=(np.deg2rad(m_deg), 1),
                arrowprops=dict(arrowstyle='-|>', color='black', lw=1.0,
                                mutation_scale=10, shrinkA=0, shrinkB=0), zorder=5)
    pa.text(np.deg2rad(m_deg + (2 if mark == '*' else 3)), 1 + m_len + 0.22, mark,
            fontsize=mark_size, ha='center', va='center', color='#111111', zorder=6)
    lab = dict(fontsize=7, color='#3A3A3A', zorder=6, clip_on=False)
    pa.text(0, 2.6, '0', ha='center', va='center', **lab)
    pa.text(np.pi, 2.6, '\u03c0', ha='center', va='center', **lab)
    pa.text(np.pi / 2, 2.64, '\u03c0', ha='center', va='bottom', **lab)
    pa.text(np.pi / 2, 2.56, '2', ha='center', va='top', **lab)
    pa.text(1.5 * np.pi, 2.56, '3\u03c0', ha='center', va='bottom', **lab)
    pa.text(1.5 * np.pi, 2.64, '2', ha='center', va='top', **lab)


polar_panel((662, 817, 968, 1123), F_YAW_ANGLE, F_YAW_AMP, '#1E9AD8',
            F_YAW_MEAN, F_YAW_CI, '*', 15, True)
polar_panel((974, 817, 1280, 1123), F_STAT_ANGLE, F_STAT_AMP, '#FFAE1A',
            F_STAT_MEAN, F_STAT_CI, 'n.s.', 11, False)

# ---- overlay: panel letters, legends, labels ----
ov = fig.add_axes([0, 0, 1, 1])
ov.set_xlim(0, W)
ov.set_ylim(H, 0)
ov.axis('off')
for letter, x, y in [('A', 17, 18), ('B', 681, 18), ('C', 16, 272), ('D', 681, 272),
                     ('E', 16, 744), ('F', 616, 746)]:
    ov.text(x, y, letter, fontsize=13, fontweight='bold', ha='center', va='center')


def legend_row(x_line, y, x_text, color, label, bold, size=9.2, lw=4.5):
    ov.plot([x_line, x_line + 37], [y, y], color=color, lw=lw, solid_capstyle='butt')
    ov.text(x_text, y, label, fontsize=size, va='center', ha='left',
            fontweight='bold' if bold else 'normal', color='#222222')


for xl in (420, 1054):
    legend_row(xl, 392, xl + 44, BLUE, '\u00b124\u00b0 yaw rotation, 0.25 Hz', False)
    legend_row(xl, 410.7, xl + 44, ORANGE, 'stationary', False)
legend_row(300, 771.5, 350, BLUE, '\u00b124\u00b0 yaw rotation, 0.25 Hz', True, 9.5, 4.2)
legend_row(300, 785, 350, ORANGE, 'stationary', True, 9.5, 4.2)
legend_row(706, 805, 757, BLUE, '\u00b124\u00b0 yaw rotation, .25 Hz', True, 9.2, 3.2)
legend_row(1077, 802, 1127, ORANGE, 'stationary', True, 9.2, 3.2)

ov.add_patch(Polygon([[881, 773], [920, 760], [920, 786]], closed=True,
                     color='#A0A09C', lw=0))
ov.annotate('', xy=(919, 773), xytext=(881, 773),
            arrowprops=dict(arrowstyle='-|>', color='black', lw=1.2,
                            mutation_scale=10, shrinkA=0, shrinkB=0))
ov.text(932, 773, 'mean phase \u00b1 95% CI', fontsize=9.2, fontweight='bold',
        va='center', ha='left', color='#222222')
ov.text(637, 960, 'amplitude', fontsize=11, rotation=90, ha='center', va='center')
ov.text(971, 1140, '\u03d5 (rad)', fontsize=11, ha='center', va='center')

fig.savefig('out.png', dpi=100, facecolor='white')
